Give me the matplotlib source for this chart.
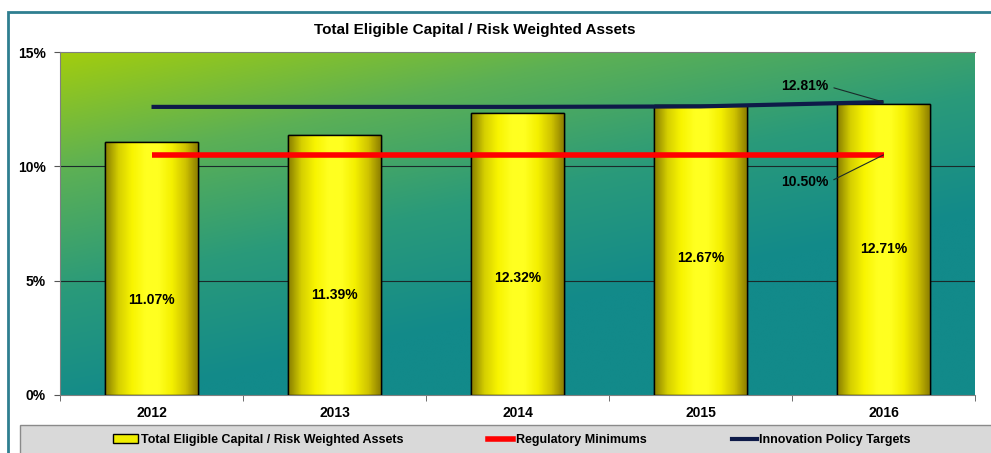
import numpy as np
import matplotlib.pyplot as plt
from matplotlib.colors import LinearSegmentedColormap
from matplotlib.patches import Rectangle, Patch
from matplotlib.lines import Line2D

# Data
years = ['2012', '2013', '2014', '2015', '2016']
ratio = [11.07, 11.39, 12.32, 12.67, 12.71]
reg_min = [10.5, 10.5, 10.5, 10.5, 10.5]
targets = [12.6, 12.6, 12.6, 12.62, 12.81]
label_y = [4.15, 4.37, 5.1, 6.0, 6.4]   # where Excel put the bar labels

plt.rcParams['font.family'] = ['Liberation Sans', 'DejaVu Sans']

fig = plt.figure(figsize=(9.91, 4.53), dpi=100)
ax = fig.add_axes([60 / 991, 58 / 453, 915 / 991, 343 / 453])

x = np.arange(len(years))

# gradient background (yellow-green top-left -> teal bottom-right)
bg = LinearSegmentedColormap.from_list('bg', ['#a2cd0e', '#5cb055', '#2a9a7a', '#128a8a'])
u, v = np.meshgrid(np.linspace(0, 1, 300), np.linspace(0, 1, 200))
t = np.clip(0.55 * u + 0.95 * v, 0, 1)
ax.imshow(t, cmap=bg, extent=(-0.5, 4.5, 0, 15), origin='upper', aspect='auto', zorder=0,
          interpolation='bicubic')

# grid lines
for g in [5, 10]:
    ax.axhline(g, color='#1a2a2a', lw=0.8, zorder=1)

# cylinder-like yellow bars
bw = 0.51
cyl = LinearSegmentedColormap.from_list('cyl', ['#8a8000', '#d6d000', '#f8f400', '#ffff20',
                                                '#ffff20', '#f4f000', '#d0c400', '#8a7c00'])
shade = np.linspace(0, 1, 100)[None, :]
bars = ax.bar(x, ratio, width=bw, color='#f5f000', edgecolor='black', lw=1, zorder=2)
for b in bars:
    im = ax.imshow(shade, cmap=cyl, extent=(b.get_x(), b.get_x() + bw, 0, b.get_height()),
                   aspect='auto', zorder=2.5)
    im.set_clip_path(b)
    ax.add_patch(Rectangle((b.get_x(), 0), bw, b.get_height(), fill=False,
                           edgecolor='black', lw=1, zorder=2.6))

for xi, val, ly in zip(x, ratio, label_y):
    ax.text(xi, ly, f'{val:.2f}%', ha='center', va='center', fontsize=10,
            fontweight='bold', zorder=5)

ax.plot(x, reg_min, color='#ff0000', lw=4, zorder=3, solid_capstyle='butt')
ax.plot(x, targets, color='#0e1a48', lw=3, zorder=3, solid_capstyle='butt')

# callouts for the last points
ax.annotate(f'{targets[-1]:.2f}%', xy=(x[-1], targets[-1]), xytext=(x[-1] - 0.43, 13.5),
            ha='center', va='center', fontsize=10, fontweight='bold',
            arrowprops=dict(arrowstyle='-', color='#1a2a2a', lw=0.8,
                            shrinkA=2, shrinkB=0, relpos=(1, 0.5)), zorder=6)
ax.annotate(f'{reg_min[-1]:.2f}%', xy=(x[-1], reg_min[-1]), xytext=(x[-1] - 0.43, 9.3),
            ha='center', va='center', fontsize=10, fontweight='bold',
            arrowprops=dict(arrowstyle='-', color='#1a2a2a', lw=0.8,
                            shrinkA=2, shrinkB=0, relpos=(1, 0.5)), zorder=6)

ax.set_xlim(-0.5, 4.5)
ax.set_ylim(0, 15)
ax.set_yticks([0, 5, 10, 15])
ax.set_yticklabels(['0%', '5%', '10%', '15%'], fontsize=10, fontweight='bold')
ax.set_xticks(x)
ax.set_xticklabels(years, fontsize=10, fontweight='bold')
ax.set_xticks(np.arange(-0.5, 5, 1), minor=True)
ax.tick_params(axis='x', which='major', length=0, pad=8)
ax.tick_params(axis='x', which='minor', length=4, color='#555555')
ax.tick_params(axis='y', length=4, color='#555555', pad=6)
ax.spines['right'].set_visible(False)
for s in ['top', 'left', 'bottom']:
    ax.spines[s].set_color('#808080')

fig.text(475 / 991, 1 - 30 / 453, 'Total Eligible Capital / Risk Weighted Assets',
         ha='center', va='center', fontsize=11, fontweight='bold')

# outer frame and legend band
fig.patches.append(Rectangle((8 / 991, -0.1), 1.1, 1 - 12 / 453 + 0.1, transform=fig.transFigure,
                             fill=False, edgecolor='#2f7f90', lw=2))
fig.patches.append(Rectangle((20 / 991, -0.1), 1.1, 0.1 + 28 / 453, transform=fig.transFigure,
                             facecolor='#d9d9d9', edgecolor='#8a8a8a', lw=1))

handles = [Patch(facecolor='#f0ee00', edgecolor='black', label='Total Eligible Capital / Risk Weighted Assets'),
           Line2D([], [], color='#ff0000', lw=4, label='Regulatory Minimums'),
           Line2D([], [], color='#0e1a48', lw=3, label='Innovation Policy Targets')]
fig.legend(handles=handles, loc='center', bbox_to_anchor=(512 / 991, 13 / 453), ncol=3,
           frameon=False, handlelength=2.0, handletextpad=0.2, columnspacing=6.8,
           prop={'size': 9, 'weight': 'bold', 'family': ['Liberation Sans Narrow', 'Liberation Sans']})

fig.savefig('out.png', dpi=100)
